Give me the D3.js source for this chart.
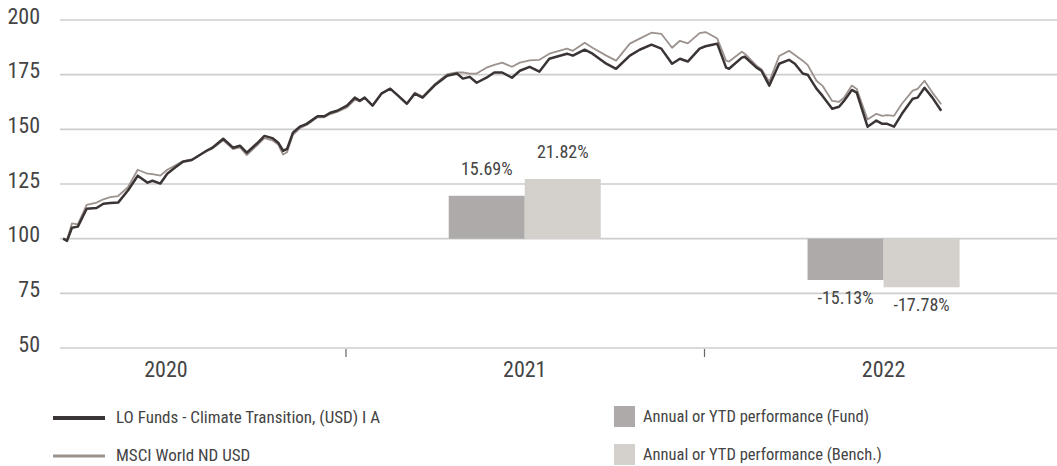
<!DOCTYPE html>
<html>
<head>
<meta charset="utf-8">
<script src="https://cdn.jsdelivr.net/npm/d3@7"></script>
<style>
  html, body { margin: 0; padding: 0; background: #fff; }
  svg { display: block; }
  text { font-family: "Liberation Sans Narrow", "Arial Narrow", "Roboto Condensed", "DejaVu Sans Condensed", sans-serif; fill: #444; }
</style>
</head>
<body>
<svg id="chart" width="1057" height="466"></svg>
<script>
// ---- Data ----
const dates = ["2020-03-19","2020-03-23","2020-03-28","2020-04-03","2020-04-12","2020-04-22","2020-04-29","2020-05-06","2020-05-14","2020-05-24",
"2020-06-03","2020-06-13","2020-06-18","2020-06-26","2020-07-03","2020-07-11","2020-07-19","2020-07-28","2020-08-12","2020-08-18",
"2020-08-29","2020-09-08","2020-09-15","2020-09-22","2020-10-02","2020-10-10","2020-10-18","2020-10-24","2020-10-29","2020-11-02",
"2020-11-08","2020-11-15","2020-11-22","2020-12-03","2020-12-10","2020-12-16","2020-12-23","2021-01-02","2021-01-10","2021-01-15",
"2021-01-20","2021-01-28","2021-02-06","2021-02-15","2021-02-23","2021-03-04","2021-03-12","2021-03-20","2021-04-01","2021-04-14",
"2021-04-24","2021-04-30","2021-05-07","2021-05-14","2021-05-24","2021-06-01","2021-06-09","2021-06-19","2021-06-27","2021-07-07",
"2021-07-17","2021-07-27","2021-08-14","2021-08-20","2021-09-01","2021-09-09","2021-09-23","2021-10-03","2021-10-17","2021-10-27",
"2021-11-08","2021-11-18","2021-11-29","2021-12-07","2021-12-15","2021-12-27","2022-01-02","2022-01-09","2022-01-14","2022-01-23",
"2022-01-26","2022-02-08","2022-02-11","2022-02-23","2022-02-28","2022-03-08","2022-03-18","2022-03-28","2022-04-03","2022-04-11",
"2022-04-16","2022-04-25","2022-05-01","2022-05-11","2022-05-18","2022-05-23","2022-05-31","2022-06-05","2022-06-16","2022-06-25",
"2022-07-01","2022-07-06","2022-07-13","2022-07-21","2022-08-01","2022-08-06","2022-08-13","2022-08-21","2022-08-30"];

const fundValues = [100,99,105,105.5,113.7,114,116,116.3,116.5,122,
128.8,125.6,126.5,125.2,129.7,132.5,135.2,136,140.2,141.6,
145.7,141.6,142.5,139.3,143.4,147,146,143.9,140.2,141,
148.5,151.2,152.5,156,156,157.6,158.5,160.8,164.5,163,
164.5,160.8,166.3,168.6,165.4,161.7,166.3,164.5,170,174.5,
175.5,173.2,174,171.3,173.6,176,176,173.6,176.8,178.6,
176.4,182.3,184.6,183.7,186.4,184.6,180,177.7,183.7,186.4,
188.7,186.9,180,182.3,181,186.9,188,188.7,189.2,178.2,
177.7,182.8,183.2,178.2,176.8,170,180,181.8,180,175.5,
175,168.6,165.4,159.4,160.3,163,168,166.8,151.2,154,
152.5,152.5,151.2,157.1,164,164.5,169,164.5,158.5];

const benchValues = [100,99.5,107,106.5,115.5,116.5,118,119,119.5,123.5,
131.5,129.7,129.5,128.8,131.5,133.5,135.5,136.2,140,141.2,
145,141,141.8,138.2,142.5,146,145,143,138.5,139.5,
147.5,150.5,152,155.5,155.5,157,158,160,163.5,163,
164.5,161,166.3,168.6,165.4,161.7,166.8,165,170.5,175.2,
176,176,175.5,175.5,178.2,179.5,180.5,178.6,180.5,181.5,
181.8,184.6,186.9,185.9,189.6,187.3,183.7,181.4,189.2,191.5,
194.2,193.7,187.3,190.5,189.3,194,194.5,192.8,191.5,181.4,
181,185.5,184.6,179.1,177.5,171.8,183.5,185.9,184,181.4,
179.5,172.2,170,163,162.6,164.5,170,168.5,154.5,157.1,
156.2,156.5,156.2,161.7,167.7,168.5,172.2,166.8,161.5];

const years = ["2020", "2021", "2022"];
const barYears = ["2021", "2022"];
const fundPerf = [15.69, -15.13];
const benchPerf = [21.82, -17.78];
const yTicks = [50, 75, 100, 125, 150, 175, 200];

const fundName = "LO Funds - Climate Transition, (USD) I A";
const benchName = "MSCI World ND USD";
const fundBarName = "Annual or YTD performance (Fund)";
const benchBarName = "Annual or YTD performance (Bench.)";

// ---- Colors ----
const cFundLine = "#3b3434";
const cBenchLine = "#9c928e";
const cFundBar = "#aeaaa9";
const cBenchBar = "#d4d0cc";
const cGrid = "#cdcdcd";

// ---- Scales ----
const svg = d3.select("#chart");
const plotLeft = 60, plotRight = 1057;
const xStart = -13.5, xEnd = 1063;

const parse = d3.timeParse("%Y-%m-%d");
const x = d3.scaleTime()
  .domain([new Date(2020, 0, 1), new Date(2023, 0, 1)])
  .range([xStart, xEnd]);

const y = d3.scaleLinear().domain([50, 200]).range([348, 20]);
const yPct = d3.scaleLinear().domain([-40, 80]).range([348, 20]);

const xYear = d3.scaleBand().domain(years).range([xStart, xEnd]).padding(0);
const xSub = d3.scaleBand().domain(["fund", "bench"])
  .range([0, xYear.bandwidth()]).paddingInner(0).paddingOuter(1.36);

// ---- Gridlines ----
svg.append("g").selectAll("line").data(yTicks).join("line")
  .attr("x1", plotLeft).attr("x2", plotRight)
  .attr("y1", d => y(d)).attr("y2", d => y(d))
  .attr("stroke", cGrid).attr("stroke-width", 1.6);

// y labels
svg.append("g").selectAll("text").data(yTicks).join("text")
  .attr("x", 40).attr("y", d => y(d) + 3.5)
  .attr("text-anchor", "end")
  .style("font-size", "22px")
  .text(d => d);

// ---- Bars ----
const barData = [];
barYears.forEach((yr, i) => {
  barData.push({ year: yr, key: "fund", v: fundPerf[i] });
  barData.push({ year: yr, key: "bench", v: benchPerf[i] });
});
svg.append("g").selectAll("rect").data(barData).join("rect")
  .attr("x", d => xYear(d.year) + xSub(d.key))
  .attr("width", xSub.bandwidth())
  .attr("y", d => Math.min(yPct(d.v), yPct(0)))
  .attr("height", d => Math.abs(yPct(d.v) - yPct(0)))
  .attr("fill", d => d.key === "fund" ? cFundBar : cBenchBar);

svg.append("g").selectAll("text").data(barData).join("text")
  .attr("x", d => xYear(d.year) + xSub(d.key) + xSub.bandwidth() / 2)
  .attr("y", d => d.v >= 0 ? yPct(d.v) - 21 : yPct(d.v) + 24)
  .attr("text-anchor", "middle")
  .style("font-size", "18px")
  .text(d => d.v.toFixed(2) + "%");

// ---- Lines ----
const series = dates.map((d, i) => ({ date: parse(d), fund: fundValues[i], bench: benchValues[i] }));
const lineBench = d3.line().x(d => x(d.date)).y(d => y(d.bench));
const lineFund = d3.line().x(d => x(d.date)).y(d => y(d.fund));

svg.append("path").datum(series).attr("d", lineBench)
  .attr("fill", "none").attr("stroke", cBenchLine).attr("stroke-width", 1.8)
  .attr("stroke-linejoin", "round");
svg.append("path").datum(series).attr("d", lineFund)
  .attr("fill", "none").attr("stroke", cFundLine).attr("stroke-width", 2.5)
  .attr("stroke-linejoin", "round");

// ---- X axis (year ticks + labels) ----
const yearBounds = years.slice(1).map(yr => new Date(+yr, 0, 1));
svg.append("g").selectAll("line").data(yearBounds).join("line")
  .attr("x1", d => x(d)).attr("x2", d => x(d))
  .attr("y1", 349).attr("y2", 357)
  .attr("stroke", "#666").attr("stroke-width", 1.2);

svg.append("g").selectAll("text").data(years).join("text")
  .attr("x", d => xYear(d) + xYear.bandwidth() / 2)
  .attr("y", 377)
  .attr("text-anchor", "middle")
  .style("font-size", "22px")
  .text(d => d);

// ---- Legend ----
const lg = svg.append("g");
const lineLegend = [
  { name: fundName, color: cFundLine, w: 4, y: 418 },
  { name: benchName, color: cBenchLine, w: 3, y: 456 }
];
lg.selectAll("line").data(lineLegend).join("line")
  .attr("x1", 53).attr("x2", 105)
  .attr("y1", d => d.y).attr("y2", d => d.y)
  .attr("stroke", d => d.color).attr("stroke-width", d => d.w);
lg.selectAll("text.l").data(lineLegend).join("text").attr("class", "l")
  .attr("x", 116).attr("y", d => d.y + 5)
  .style("font-size", "17px")
  .text(d => d.name);

const barLegend = [
  { name: fundBarName, color: cFundBar, y: 406 },
  { name: benchBarName, color: cBenchBar, y: 444 }
];
lg.selectAll("rect").data(barLegend).join("rect")
  .attr("x", 614).attr("y", d => d.y).attr("width", 21).attr("height", 21)
  .attr("fill", d => d.color);
lg.selectAll("text.b").data(barLegend).join("text").attr("class", "b")
  .attr("x", 643).attr("y", d => d.y + 16)
  .style("font-size", "16.5px")
  .text(d => d.name);
</script>
</body>
</html>
